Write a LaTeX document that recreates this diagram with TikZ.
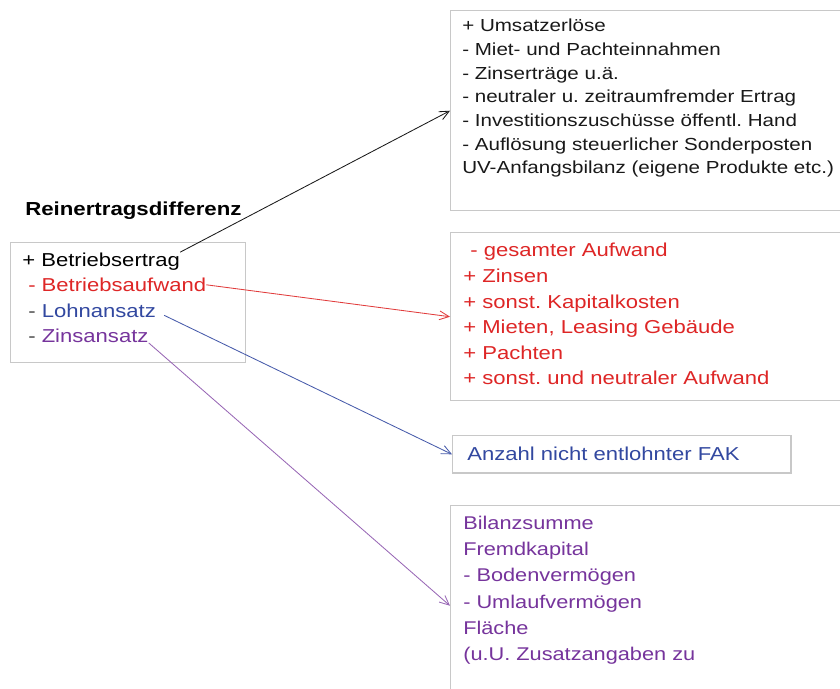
\documentclass[tikz,border=0pt]{standalone}
\usepackage{fontspec}
\setmainfont[FakeStretch=1.18]{Liberation Sans}
\usetikzlibrary{positioning,arrows.meta}

\definecolor{panelgray}{RGB}{200,200,200}
\definecolor{ertragblack}{RGB}{25,25,25}
\definecolor{aufwandred}{RGB}{222,38,38}
\definecolor{lohnblue}{RGB}{50,72,160}
\definecolor{zinspurple}{RGB}{118,52,156}

\frenchspacing

\begin{document}
\begin{tikzpicture}[
  x=0.025cm, y=-0.025cm,
  panel/.style={rectangle, draw=panelgray, line width=1pt, fill=white,
                anchor=north west, inner sep=0pt},
  item/.style={inner sep=0pt, anchor=base west,
               font=\fontsize{13.3}{18}\selectfont},
  list/.style={inner sep=0pt, anchor=north west, align=left,
               font=\fontsize{13.3}{18.2}\selectfont},
  title/.style={inner sep=0pt, anchor=base west,
                font=\fontsize{13.4}{16}\selectfont\bfseries},
  link/.style={-{Straight Barb[length=2.4mm,width=2.2mm]}, line width=0.6pt}
]
  \useasboundingbox (0,0) rectangle (840,689);

  % Aufschluesselung rechts
  \node[panel, minimum width=9.8cm, minimum height=5cm]     (ertragbox)  at (450,10)  {};
  \node[panel, minimum width=9.8cm, minimum height=4.2cm]   (aufwandbox) at (450,232) {};
  \node[panel, minimum width=8.45cm, minimum height=0.93cm] (lohnbox)    at (452,435) {};
  \node[panel, minimum width=9.8cm, minimum height=5cm]     (zinsbox)    at (450,505) {};

  % Schema links
  \node[panel, minimum width=5.875cm, minimum height=3cm] (sumbox) at (10,242) {};
  \node[title] (title) at (25,215) {Reinertragsdifferenz};
  \node[item, text=black]      (ertrag)  at (22,266)   {+ Betriebsertrag};
  \node[item, text=aufwandred] (aufwand) at (28,291.5) {- Betriebsaufwand};
  \node[item, text=lohnblue]   (lohn)    at (28,317)   {\textcolor{ertragblack!80}{-} Lohnansatz};
  \node[item, text=zinspurple] (zins)    at (28,342.5) {\textcolor{ertragblack!80}{-} Zinsansatz};

  \node[list, text=ertragblack, font=\fontsize{12.4}{16.8}\selectfont] (ertragtxt) at (462,19)
    {+ Umsatzerlöse\\
     - Miet- und Pachteinnahmen\\
     - Zinserträge u.ä.\\
     - neutraler u. zeitraumfremder Ertrag\\
     - Investitionszuschüsse öffentl. Hand\\
     - Auflösung steuerlicher Sonderposten\\
     UV-Anfangsbilanz (eigene Produkte etc.)};

  \node[list, text=aufwandred] (aufwandtxt) at (463,243)
    {\hspace*{5pt}- gesamter Aufwand\\
     + Zinsen\\
     + sonst. Kapitalkosten\\
     + Mieten, Leasing Gebäude\\
     + Pachten\\
     + sonst. und neutraler Aufwand};

  \node[item, text=lohnblue] (lohntxt) at (467,460) {Anzahl nicht entlohnter FAK};

  \node[list, text=zinspurple, font=\fontsize{13.1}{18.6}\selectfont] (zinstxt) at (463,516)
    {Bilanzsumme\\
     Fremdkapital\\
     - Bodenvermögen\\
     - Umlaufvermögen\\
     Fläche\\
     (u.U. Zusatzangaben zu};

  \draw[link, ertragblack]   (ertrag.north east) -- (ertragbox.west);
  \draw[link, aufwandred!90] (aufwand.east)      -- (aufwandbox.west);
  \draw[link, lohnblue!90]   ([shift={(8,5)}]lohn.east) -- (lohnbox.west);
  \draw[link, zinspurple!75] (zins.south east)   -- (zinsbox.west);
\end{tikzpicture}
\end{document}
